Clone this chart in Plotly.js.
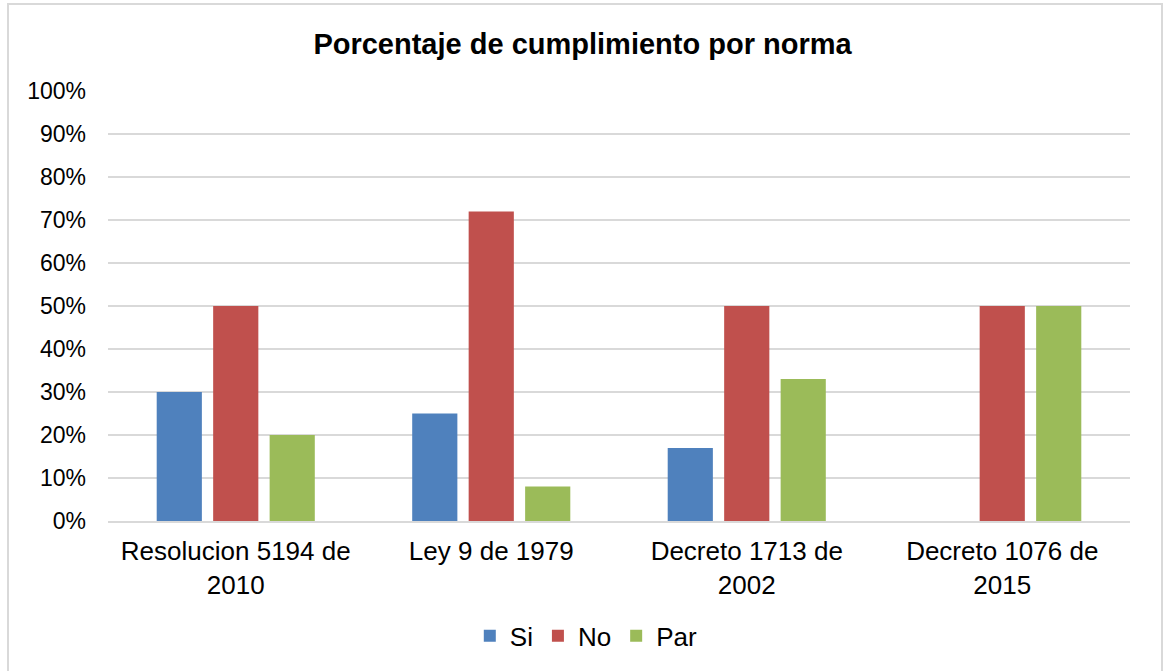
<!DOCTYPE html>
<html><head><meta charset="utf-8">
<script src="https://cdn.plot.ly/plotly-3.0.1.min.js"></script>
<style>
html,body{margin:0;padding:0;background:#fff;}
#wrap{position:relative;width:1165px;height:671px;overflow:hidden;}
#chart{width:1165px;height:671px;}
#frame{position:absolute;left:7px;top:3px;width:1152px;height:720px;border:2px solid #D9D9D9;pointer-events:none;}
</style></head>
<body><div id="wrap"><div id="chart"></div><div id="frame"></div></div>
<script>
const categories = ["Resolucion 5194 de<br>2010", "Ley 9 de 1979", "Decreto 1713 de<br>2002", "Decreto 1076 de<br>2015"];
const si  = [0.30, 0.25, 0.17, 0.00];
const no  = [0.50, 0.72, 0.50, 0.50];
const par = [0.20, 0.08, 0.33, 0.50];
const seriesNames = ["Si", "No", "Par"];
const colors = ["#4F81BD", "#C0504D", "#9BBB59"];
const yTicks = [0,0.1,0.2,0.3,0.4,0.5,0.6,0.7,0.8,0.9,1.0];

const traces = [si, no, par].map((vals, i) => ({
  type: "bar", x: categories, y: vals, name: seriesNames[i],
  marker: {color: colors[i]}, hoverinfo: "skip"
}));

const layout = {
  width: 1165, height: 671,
  margin: {l: 108, r: 35, t: 91, b: 150},
  paper_bgcolor: "rgba(0,0,0,0)", plot_bgcolor: "#fff",
  font: {family: "Liberation Sans, Arial, sans-serif", color: "#000", size: 23},
  title: {text: "<b>Porcentaje de cumplimiento por norma</b>", x: 0.5, xanchor: "center", y: 0.935, yanchor: "middle", font: {size: 29, color: "#000"}},
  barmode: "group", bargap: 0.337, bargroupgap: 0.2,
  xaxis: {tickfont: {size: 26}, showgrid: false, showline: true, linecolor: "#D9D9D9", linewidth: 2, ticks: "", ticklen: 0, ticklabelstandoff: 6},
  yaxis: {range: [0, 1.0], tickvals: yTicks, tickformat: ".0%", showgrid: true, gridcolor: "#D9D9D9", gridwidth: 1.5, zeroline: false, showline: false, ticks: "", ticklabelstandoff: 21, tickfont: {size: 23}},
  legend: {orientation: "h", x: 0.468, xanchor: "center", y: -0.267, yanchor: "middle", font: {size: 26}, itemwidth: 30, traceorder: "normal"},
  showlegend: true
};
Plotly.newPlot("chart", traces, layout, {displayModeBar: false, staticPlot: true});
</script></body></html>
